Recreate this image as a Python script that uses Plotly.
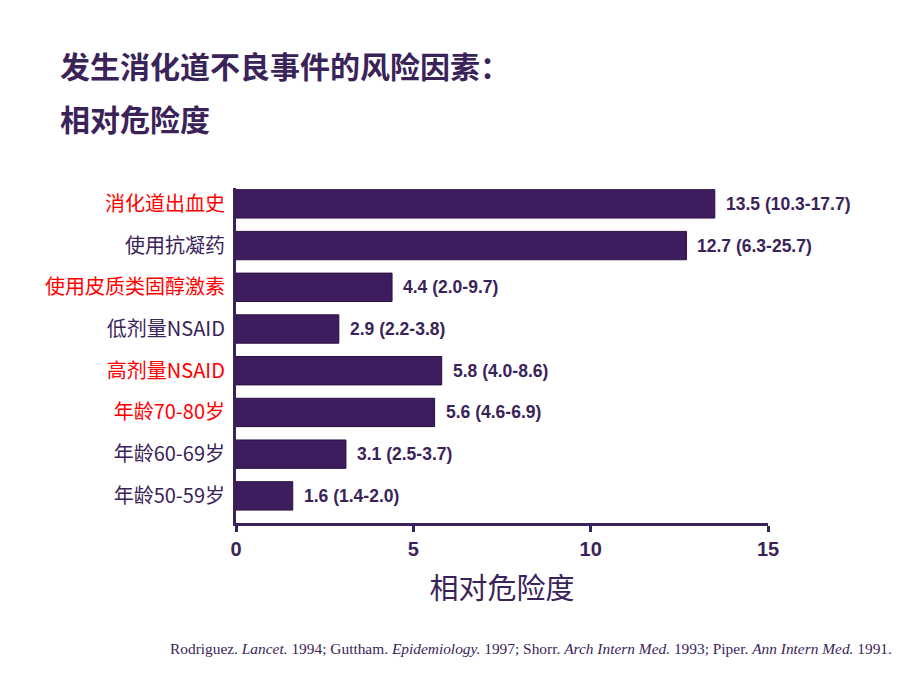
import plotly.graph_objects as go

categories = ["消化道出血史", "使用抗凝药", "使用皮质类固醇激素", "低剂量NSAID",
              "高剂量NSAID", "年龄70-80岁", "年龄60-69岁", "年龄50-59岁"]
highlight = [True, False, True, False, True, True, False, False]
rr = [13.5, 12.7, 4.4, 2.9, 5.8, 5.6, 3.1, 1.6]
ci_text = ["13.5 (10.3-17.7)", "12.7 (6.3-25.7)", "4.4 (2.0-9.7)", "2.9 (2.2-3.8)",
           "5.8 (4.0-8.6)", "5.6 (4.6-6.9)", "3.1 (2.5-3.7)", "1.6 (1.4-2.0)"]
x_ticks = [0, 5, 10, 15]

PURPLE = "#3a2358"
BAR = "#3d1d5e"

ticktext = [f'<span style="color:{"#ff0000" if h else PURPLE}">{c}</span>'
            for c, h in zip(categories, highlight)]

ypos = list(range(len(categories)))

fig = go.Figure()
fig.add_trace(go.Bar(
    y=ypos, x=rr, orientation="h",
    marker=dict(color=BAR, line=dict(color="#2a1040", width=1)),
    width=0.68,
    cliponaxis=False,
))

annotations = [
    dict(x=v, y=i, text=t, xref="x", yref="y", xanchor="left", yanchor="middle",
         xshift=9, showarrow=False,
         font=dict(family="Liberation Sans", size=17.5, color=PURPLE, weight="bold"))
    for i, (v, t) in enumerate(zip(rr, ci_text))
]
annotations += [
    dict(text="发生消化道不良事件的风险因素：", xref="paper", yref="paper",
         x=-0.334, y=1.367, xanchor="left", yanchor="middle", showarrow=False,
         font=dict(family="Noto Sans CJK SC", size=30, color=PURPLE, weight="bold")),
    dict(text="相对危险度", xref="paper", yref="paper",
         x=-0.334, y=1.21, xanchor="left", yanchor="middle", showarrow=False,
         font=dict(family="Noto Sans CJK SC", size=30, color=PURPLE, weight="bold")),
    dict(text="Rodriguez. <i>Lancet.</i> 1994; Guttham. <i>Epidemiology.</i> 1997; Shorr. <i>Arch Intern Med.</i> 1993; Piper. <i>Ann Intern Med.</i> 1991.",
         xref="paper", yref="paper", x=1.237, y=-0.375, xanchor="right", yanchor="middle",
         showarrow=False, font=dict(family="Liberation Serif", size=15.4, color=PURPLE)),
]

fig.update_layout(
    width=920, height=690,
    margin=dict(l=228, r=160, t=180, b=175),
    paper_bgcolor="white", plot_bgcolor="white",
    showlegend=False,
    xaxis=dict(range=[0, 15], tickvals=x_ticks, ticktext=[str(v) for v in x_ticks],
               showgrid=False, zeroline=False,
               showline=True, linewidth=3, linecolor=PURPLE,
               ticks="outside", ticklen=6, tickwidth=3, tickcolor=PURPLE,
               tickfont=dict(family="Liberation Sans", size=20, color=PURPLE, weight="bold"),
               title=dict(text="相对危险度", font=dict(family="Noto Sans CJK SC", size=29, color=PURPLE),
                          standoff=20)),
    yaxis=dict(range=[7.65, -0.38], tickvals=ypos, ticktext=ticktext,
               showgrid=False, zeroline=False,
               showline=True, linewidth=3, linecolor=PURPLE,
               ticks="", ticklabelstandoff=4,
               tickfont=dict(family="Noto Sans CJK SC", size=20, color=PURPLE)),
    annotations=annotations,
)

fig.write_html("out.html")
